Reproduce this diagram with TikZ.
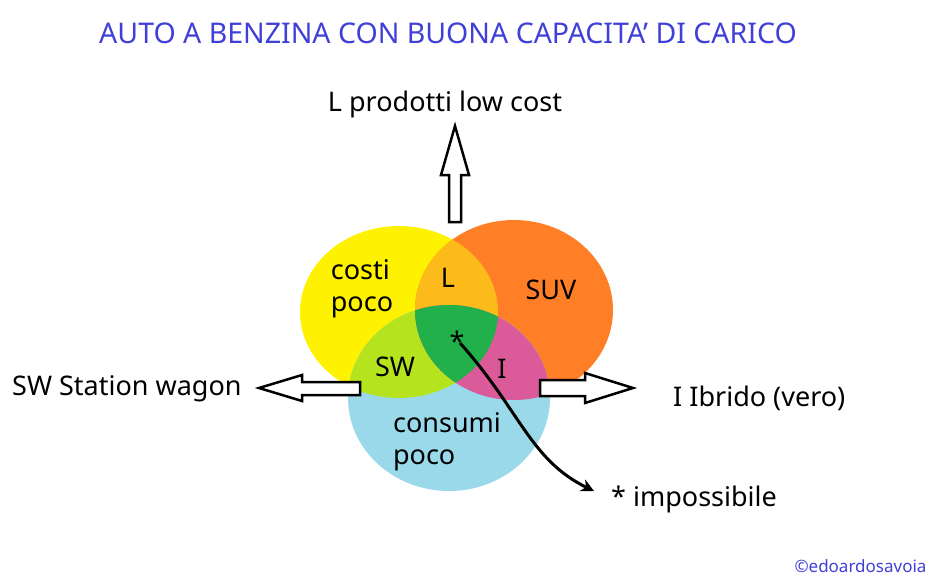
\documentclass[tikz,border=0pt]{standalone}
\usepackage{fontspec}
\setmainfont{Noto Sans}
\usetikzlibrary{arrows.meta}
\definecolor{cy}{HTML}{FFF200}
\definecolor{co}{HTML}{FF7F27}
\definecolor{cb}{HTML}{99D9EA}
\definecolor{cyo}{HTML}{FDBB1B}
\definecolor{cyb}{HTML}{B5E41F}
\definecolor{cob}{HTML}{DA5A9A}
\definecolor{cg}{HTML}{22B04A}
\definecolor{ct}{HTML}{4040D8}
\tikzset{lbl/.style={font=\fontsize{27}{32}\selectfont,align=left,inner sep=0},
 blk/.style={draw=black,line width=2.5pt,fill=white,line join=miter}}
\begin{document}
\begin{tikzpicture}[x=1pt,y=-1pt]
\useasboundingbox (0,0) rectangle (938,584);
\def\Y{(399,312) ellipse [x radius=99,y radius=86]}
\def\O{(514,310) ellipse [x radius=99,y radius=90]}
\def\B{(449,398) ellipse [x radius=101,y radius=93]}
\fill[cy] \Y; \fill[co] \O; \fill[cb] \B;
\begin{scope}\clip \Y; \fill[cyo] \O; \fill[cyb] \B; \end{scope}
\begin{scope}\clip \O; \fill[cob] \B; \end{scope}
\begin{scope}\clip \Y; \clip \O; \fill[cg] \B; \end{scope}
\node[font=\fontsize{28.5}{32}\selectfont,text=ct] (t) at (448,33) {AUTO A BENZINA CON BUONA CAPACITA' DI CARICO};
% block arrows
\draw[blk] (449,222)--(449,175)--(441,175)--(455,126)--(469,175)--(461,175)--(461,222)--cycle;
\draw[blk] (360,382)--(302,382)--(302,375)--(259,388)--(302,401)--(302,395)--(360,395)--cycle;
\draw[blk] (540,380)--(585,380)--(585,373)--(633,388)--(585,403)--(585,396)--(540,396)--cycle;
\node[lbl] (l) at (445,104) {L prodotti low cost};
\node[lbl,anchor=west] (sw) at (12,389) {SW Station wagon};
\node[lbl,anchor=west] (ib) at (673,398) {I Ibrido (vero)};
\node[lbl,anchor=west] (imp) at (611,499) {* impossibile};
\node[lbl] (cp) at (362,289) {costi\\poco};
\node[lbl] (L) at (448,278) {L};
\node[lbl] (suv) at (551,290) {SUV};
\node[lbl] (swi) at (395,367) {SW};
\node[lbl] (st) at (457,341) {*};
\node[lbl] (ii) at (502,369) {I};
\node[lbl] (cons) at (447,442) {consumi\\poco};
\node[font=\fontsize{17}{19}\selectfont,text=ct,anchor=east] (c) at (930,566) {©edoardosavoia};
\coordinate (s0) at (460,343);
\coordinate (s1) at (594,491);
\draw[line width=3pt,-{Stealth[length=13pt,width=13pt]}] (s0) .. controls (520,410) and (530,460) .. (s1);
\end{tikzpicture}
\end{document}
